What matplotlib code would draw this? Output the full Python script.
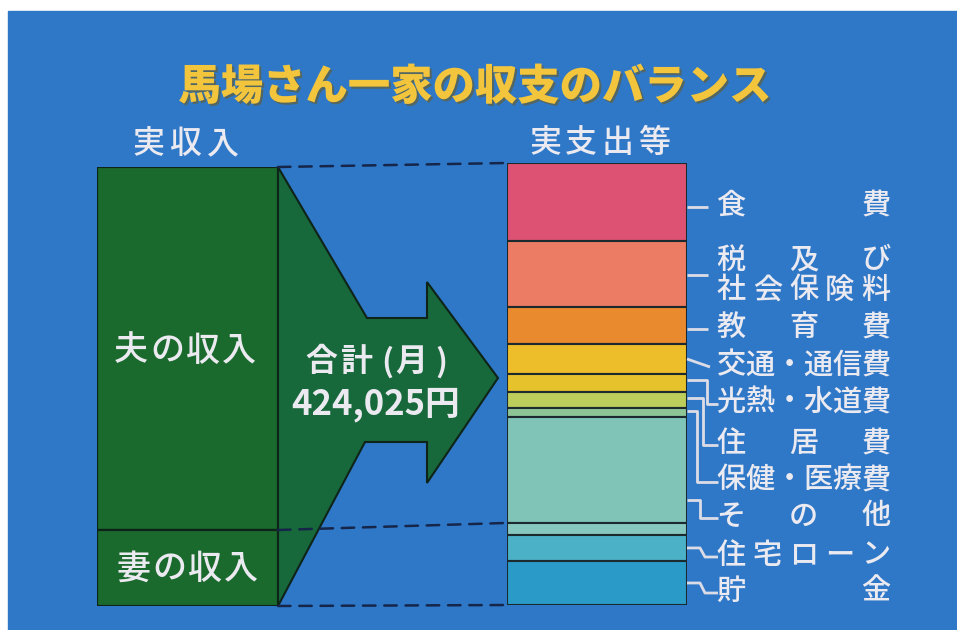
import matplotlib
matplotlib.use("Agg")
import matplotlib.pyplot as plt
from matplotlib.patches import Rectangle, Polygon, ConnectionPatch
import matplotlib.patheffects as pe
import numpy as np

plt.rcParams['font.family'] = ['Noto Sans CJK JP', 'DejaVu Sans']

# ---- data -------------------------------------------------------------
title = "馬場さん一家の収支のバランス"
income_header = "実収入"
expense_header = "実支出等"
total_caption = "合計(月)"
total_amount = "424,025円"

income_labels = ["夫の収入", "妻の収入"]
income_values = [350625, 73400]          # 円 / 月

expense_labels = [["食費"], ["税及び", "社会保険料"], ["教育費"], ["交通・通信費"],
                  ["光熱・水道費"], ["住居費"], ["保健・医療費"], ["その他"], [],
                  ["住宅ローン"], ["貯金"]]
expense_values = [74800, 63300, 35500, 28800, 17300, 15300, 8600, 101700,
                  11500, 25000, 42225]   # 円 / 月

# ---- styling ------------------------------------------------------------
W, H = 957, 630
BLUE = "#2f78c8"
GREEN = "#1b6a2d"
ARROW_GREEN = "#17683a"
DARK = "#0f2418"
WHITE = "#ebeaf1"
YELLOW = "#f2c53c"
expense_colors = ["#dd5272", "#ec7c64", "#e98a2e", "#eebd2a", "#e6c22c",
                  "#bccd5c", "#8dc596", "#80c4b8", "#86c8c0", "#4ab1c6",
                  "#2a9bc8"]

fig = plt.figure(figsize=(W / 100, H / 100), dpi=100, facecolor="white")
ax = fig.add_axes([0, 0, 1, 1], zorder=0)
ax.set_xlim(0, W)
ax.set_ylim(H, 0)
ax.axis("off")
ax.add_patch(Rectangle((8, 11), W - 8, H - 11, color=BLUE, zorder=0))

# transparent overlay for texts and leader lines, above the bar axes
ov = fig.add_axes([0, 0, 1, 1], zorder=10)
ov.set_xlim(0, W)
ov.set_ylim(H, 0)
ov.axis("off")
ov.patch.set_alpha(0)


def px_axes(x0, y0, x1, y1, z=2):
    a = fig.add_axes([x0 / W, 1 - y1 / H, (x1 - x0) / W, (y1 - y0) / H], zorder=z)
    a.axis("off")
    return a


def to_px(a, x, y):
    d = a.transData.transform((x, y))
    return ax.transData.inverted().transform(d)


# ---- income (left) stacked bar -------------------------------------------
ax_in = px_axes(97, 167, 278, 606)
inc_total = sum(income_values)
inc_bottoms = np.concatenate([[0], np.cumsum(income_values)[:-1]])
ax_in.bar([0.5] * len(income_values), income_values, width=1, bottom=inc_bottoms,
          color=GREEN, edgecolor=DARK, linewidth=1.6)
ax_in.set_xlim(0, 1)
ax_in.set_ylim(inc_total, 0)

# ---- expense (right) stacked bar -----------------------------------------
ax_ex = px_axes(507, 163, 687, 605)
ex_total = sum(expense_values)
ex_bottoms = np.concatenate([[0], np.cumsum(expense_values)[:-1]])
ax_ex.bar([0.5] * len(expense_values), expense_values, width=1, bottom=ex_bottoms,
          color=expense_colors, edgecolor="#1c2a30", linewidth=1.5)
ax_ex.set_xlim(0, 1)
ax_ex.set_ylim(ex_total, 0)

# ---- big arrow from income to expenses -----------------------------------
x_in_r, y_in_top = to_px(ax_in, 1, 0)
_, y_in_bot = to_px(ax_in, 1, inc_total)
arrow = Polygon([(x_in_r, y_in_top), (367, 318), (427, 318), (427, 282),
                 (498, 378), (427, 483), (427, 442), (365, 442),
                 (x_in_r, y_in_bot)],
                closed=True, facecolor=ARROW_GREEN, edgecolor=DARK,
                linewidth=1.5, zorder=3)
ax.add_patch(arrow)

# ---- dashed connectors ----------------------------------------------------
wife_split = income_values[0]
ex_split = sum(expense_values[:8])
for yi, ye in [(0, 0), (wife_split, ex_split), (inc_total, ex_total)]:
    con = ConnectionPatch(xyA=(1, yi), coordsA=ax_in.transData,
                          xyB=(0, ye), coordsB=ax_ex.transData,
                          color="#15264a", linewidth=1.8,
                          linestyle=(0, (5, 3.5)), zorder=6)
    fig.add_artist(con)


# ---- texts ---------------------------------------------------------------
def place(chars, xs, y, size, color=WHITE, weight="medium"):
    for c, x in zip(chars, xs):
        ov.text(x, y, c, ha="center", va="center", fontsize=size,
                color=color, fontweight=weight, zorder=8)


def spread(chars, y, x0, x1, size, **kw):
    n = len(chars)
    xs = [x0] if n == 1 else np.linspace(x0, x1, n)
    place(chars, xs, y, size, **kw)


ov.text(475, 87, title, ha="center", va="center", fontsize=30.5,
        fontweight="black", color=YELLOW, zorder=8,
        path_effects=[pe.withSimplePatchShadow(offset=(1.5, -1.5),
                                               shadow_rgbFace="#6a5a20",
                                               alpha=0.6)])
spread(income_header, 144, 148, 222, 23)
spread(expense_header, 143, 545, 654, 23)
spread(income_labels[0], 351, 131, 239, 24.5)
spread(income_labels[1], 569, 133, 241, 24.5)
place(total_caption, [321, 357, 387, 411, 441], 362, 23, weight="bold")
ov.text(376, 404, total_amount, ha="center", va="center", fontsize=25,
        color=WHITE, fontweight="bold", zorder=8)

# category labels, justified between two columns
label_rows = [[205], [260, 290], [327], [365], [402], [443], [480], [516], [],
              [555], [591]]
for lines, ys in zip(expense_labels, label_rows):
    for line, y in zip(lines, ys):
        spread(list(line), y, 731, 876, 21)

# ---- leader lines ---------------------------------------------------------
bar_r, _ = to_px(ax_ex, 1, 0)
anchor_frac = [0.5, 0.5, 0.5, 0.5, 0.35, 0.4, 0.3, 0.78, None, 0.5, 0.5]
elbows = [None, None, None, "slant", 707, 703, 697, 700, None, "step", "step"]
lc = dict(color="#dcdce6", linewidth=2, zorder=7, solid_capstyle="butt")
for i, (frac, ys) in enumerate(zip(anchor_frac, label_rows)):
    if frac is None or not ys:
        continue
    y_lab = float(np.mean(ys)) if len(ys) > 1 else ys[0] + 2
    ys0 = to_px(ax_ex, 1, ex_bottoms[i] + frac * expense_values[i])[1]
    e = elbows[i]
    if e is None:
        ov.plot([bar_r, 708], [y_lab, y_lab], **lc)
    elif e == "slant":
        ov.plot([bar_r, 710], [ys0, y_lab], **lc)
    elif e == "step":
        ov.plot([bar_r, 700, 705, 718], [ys0, ys0, y_lab, y_lab], **lc)
    else:
        ov.plot([bar_r, e, e, 718], [ys0, ys0, y_lab, y_lab], **lc)

fig.savefig("out.png", dpi=100, facecolor="white")
